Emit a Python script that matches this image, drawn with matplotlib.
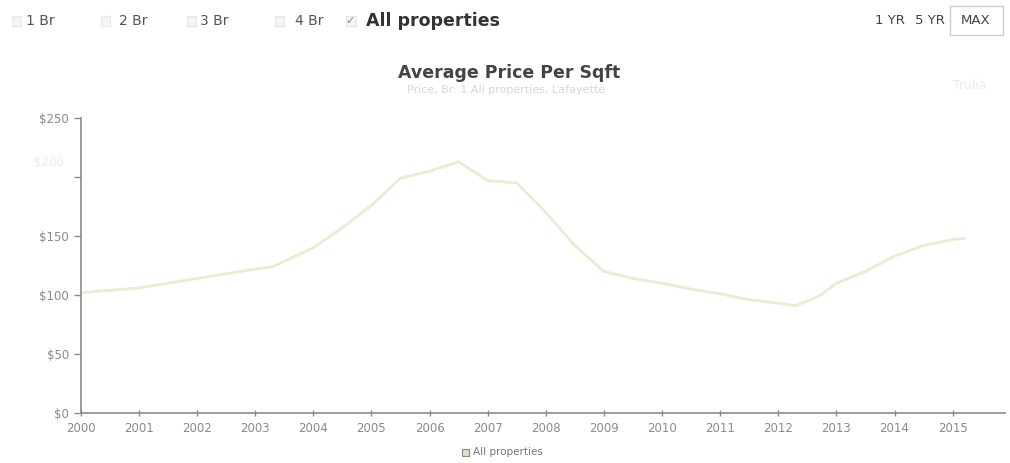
import matplotlib
matplotlib.use('Agg')
import matplotlib.pyplot as plt
from matplotlib.patches import Rectangle

# price per sqft (year, $)
years = [2000.0, 2001.0, 2002.0, 2003.0, 2003.3, 2004.0, 2004.5, 2005.0, 2005.5,
         2006.0, 2006.5, 2007.0, 2007.5, 2008.0, 2008.5, 2009.0, 2009.5, 2010.0,
         2010.5, 2011.0, 2011.5, 2012.0, 2012.3, 2012.7, 2013.0, 2013.5, 2014.0,
         2014.5, 2015.0, 2015.2]
prices = [102, 106, 114, 122, 124, 140, 157, 176, 199,
          205, 213, 197, 195, 170, 142, 120, 114, 110,
          105, 101, 96, 93, 91, 99, 110, 120, 133,
          142, 147, 148]
year_ticks = list(range(2000, 2016))
price_ticks = [0, 50, 100, 150, 200, 250]
price_labels = ['$0', '$50', '$100', '$150', '', '$250']
bedroom_opts = ['1 Br', '2 Br', '3 Br', '4 Br']
range_opts = ['1 YR', '5 YR', 'MAX']

plt.rcParams['font.family'] = ['DejaVu Sans']

fig = plt.figure(figsize=(10.1, 4.63), dpi=100)
ax = fig.add_axes([0.080, 0.108, 0.915, 0.637])

ax.plot(years, prices, color='#e9ecd2', lw=2.0, solid_capstyle='round')
ax.set_xlim(2000, 2015.9)
ax.set_ylim(0, 250)
ax.set_xticks(year_ticks)
ax.set_xticklabels([str(y) for y in year_ticks])
ax.set_yticks(price_ticks)
ax.set_yticklabels(price_labels)
ax.tick_params(colors='#8a8a8a', labelsize=8.5, length=5, width=1)
ax.tick_params(axis='x', direction='inout', pad=4)
for s in ['top', 'right']:
    ax.spines[s].set_visible(False)
for s in ['left', 'bottom']:
    ax.spines[s].set_color('#8a8a8a')
    ax.spines[s].set_linewidth(1.2)
# faded $200 label
ax.text(-0.018, 0.85, '$200', transform=ax.transAxes, ha='right', va='center',
        fontsize=8.5, color='#ececec')

# titles
fig.text(0.504, 0.842, 'Average Price Per Sqft', ha='center', va='center',
         fontsize=12.5, fontweight='bold', color='#444444')
fig.text(0.501, 0.806, 'Price, Br: 1 All properties, Lafayette', ha='center',
         va='center', fontsize=8, color='#d6d6d6')
fig.text(0.960, 0.815, 'Trulia', ha='center', va='center', fontsize=9,
         color='#ececec')

# legend below axis
fig.add_artist(Rectangle((0.4575, 0.016), 0.007, 0.015, transform=fig.transFigure,
                         facecolor='#dde0c8', edgecolor='#888888', lw=0.8))
fig.text(0.468, 0.024, 'All properties', ha='left', va='center', fontsize=7.5,
         color='#777777')

# top controls
box_x = [0.012, 0.100, 0.185, 0.272]
text_x = [0.026, 0.118, 0.198, 0.292]
for bx, tx, lab in zip(box_x, text_x, bedroom_opts):
    fig.add_artist(Rectangle((bx, 0.943), 0.009, 0.022, transform=fig.transFigure,
                             facecolor='#f4f4f4', edgecolor='#e8e8e8', lw=0.8))
    fig.text(tx, 0.955, lab, ha='left', va='center', fontsize=10, color='#555555')
fig.add_artist(Rectangle((0.343, 0.943), 0.009, 0.022, transform=fig.transFigure,
                         facecolor='#f4f4f4', edgecolor='#e8e8e8', lw=0.8))
fig.text(0.347, 0.955, '\u2713', ha='center', va='center', fontsize=8,
         color='#888888')
fig.text(0.362, 0.955, 'All properties', ha='left', va='center', fontsize=12.5,
         fontweight='bold', color='#333333')

for xr, lab in zip([0.881, 0.921, 0.966], range_opts):
    fig.text(xr, 0.955, lab, ha='center', va='center', fontsize=9.5, color='#444444')
fig.add_artist(Rectangle((0.941, 0.925), 0.052, 0.062, transform=fig.transFigure,
                         facecolor='none', edgecolor='#cccccc', lw=1))

fig.savefig('out.png', dpi=100, facecolor='white')
